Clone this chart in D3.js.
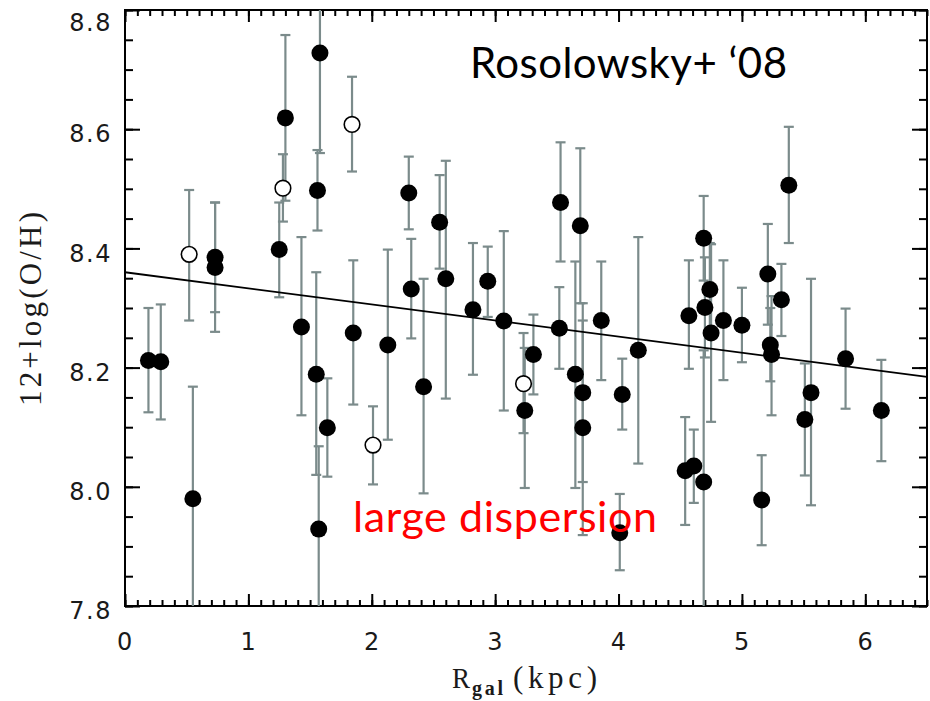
<!DOCTYPE html>
<html>
<head>
<meta charset="utf-8">
<script src="https://cdn.jsdelivr.net/npm/d3@7"></script>
<style>
  body { margin: 0; background: #fff; }
  svg { display: block; }
</style>
</head>
<body>
<div id="chart"></div>
<script>
// filled points: R_gal (kpc), 12+log(O/H), lower and upper end of the error bar
var rgal = [0.19, 0.29, 0.55, 0.73, 0.73, 1.25, 1.30, 1.58, 1.56, 1.43, 1.55, 1.57, 1.64, 1.85, 2.13,
  2.30, 2.55, 2.60, 2.32, 2.42, 2.82, 2.94, 3.07, 3.24, 3.31, 3.52, 3.53, 3.69, 3.65, 3.71, 3.71,
  3.86, 4.03, 4.01, 4.16, 4.57, 4.70, 4.75, 4.85, 5.00, 5.32, 5.21, 5.38, 5.23, 5.24, 5.84, 6.13,
  5.56, 5.51, 5.16, 4.54, 4.61, 4.69, 4.69, 4.74];
var oh = [8.212, 8.210, 7.980, 8.385, 8.368, 8.398, 8.619, 8.728, 8.497, 8.268, 8.189, 7.929, 8.099, 8.258, 8.238,
  8.493, 8.444, 8.349, 8.332, 8.168, 8.297, 8.345, 8.278, 8.128, 8.222, 8.266, 8.477, 8.438, 8.189, 8.158, 8.099,
  8.279, 8.155, 7.923, 8.229, 8.287, 8.301, 8.258, 8.279, 8.271, 8.314, 8.357, 8.506, 8.238, 8.222, 8.215, 8.128,
  8.158, 8.113, 7.978, 8.027, 8.035, 8.008, 8.417, 8.331];
var ohLow = [8.125, 8.113, 7.780, 8.293, 8.260, 8.318, 8.480, 8.560, 8.430, 8.120, 8.020, 7.780, 8.017, 8.138, 8.079,
  8.432, 8.366, 8.148, 8.249, 7.989, 8.188, 8.285, 8.128, 7.998, 8.155, 8.198, 8.378, 8.308, 7.998, 8.008, 7.919,
  8.179, 8.096, 7.860, 8.039, 8.198, 8.217, 8.109, 8.179, 8.209, 8.253, 8.272, 8.409, 8.177, 8.120, 8.131, 8.043,
  7.969, 8.019, 7.902, 7.936, 7.973, 7.780, 8.346, 8.253];
var ohHigh = [8.300, 8.306, 8.168, 8.477, 8.477, 8.477, 8.758, 8.900, 8.565, 8.419, 8.360, 8.068, 8.182, 8.380, 8.398,
  8.554, 8.523, 8.547, 8.416, 8.349, 8.409, 8.403, 8.429, 8.233, 8.289, 8.335, 8.578, 8.568, 8.378, 8.308, 8.279,
  8.378, 8.215, 7.988, 8.419, 8.380, 8.385, 8.407, 8.380, 8.334, 8.374, 8.441, 8.604, 8.300, 8.320, 8.299, 8.213,
  8.349, 8.207, 8.053, 8.117, 8.096, 8.229, 8.488, 8.409];

// open points
var rgalOpen = [0.52, 1.28, 1.84, 2.01, 3.23];
var ohOpen = [8.390, 8.501, 8.608, 8.070, 8.173];
var ohOpenLow = [8.279, 8.445, 8.529, 8.004, 8.090];
var ohOpenHigh = [8.498, 8.558, 8.688, 8.135, 8.258];

// linear fit
var fitIntercept = 8.36, fitSlope = -0.027;

var xTicks = [0, 1, 2, 3, 4, 5, 6];
var yTicks = [7.8, 8.0, 8.2, 8.4, 8.6, 8.8];

var width = 930, height = 701,
    margin = { top: 10, right: 3, bottom: 95, left: 125 },
    errColor = "#7b8b8b";

var x = d3.scaleLinear().domain([0, 6.5]).range([margin.left, width - margin.right]);
var y = d3.scaleLinear().domain([7.8, 8.8]).range([height - margin.bottom, margin.top]);

var svg = d3.select("#chart").append("svg")
    .attr("width", width)
    .attr("height", height);

svg.append("defs").append("clipPath").attr("id", "plot")
    .append("rect")
    .attr("x", x(0)).attr("y", y(8.8))
    .attr("width", x(6.5) - x(0)).attr("height", y(7.8) - y(8.8));

var xMinor = d3.range(0, 66).map(function (i) { return i / 10; });
var yMinor = d3.range(0, 21).map(function (i) { return 7.8 + i * 0.05; });

function styleAxis(g) {
    g.select(".domain").remove();
    g.selectAll("line").attr("stroke", "#000").attr("stroke-width", 2);
    g.selectAll("text").attr("font-family", "DejaVu Sans, sans-serif").attr("font-size", "24px")
        .attr("letter-spacing", "1.5px").attr("fill", "#1a1a1a");
}

// minor ticks on all four sides
svg.append("g").attr("transform", "translate(0," + y(7.8) + ")")
    .call(d3.axisBottom(x).tickValues(xMinor).tickFormat("").tickSize(-6)).call(styleAxis);
svg.append("g").attr("transform", "translate(0," + y(8.8) + ")")
    .call(d3.axisTop(x).tickValues(xMinor).tickFormat("").tickSize(-6)).call(styleAxis);
svg.append("g").attr("transform", "translate(" + x(0) + ",0)")
    .call(d3.axisLeft(y).tickValues(yMinor).tickFormat("").tickSize(-8)).call(styleAxis);
svg.append("g").attr("transform", "translate(" + x(6.5) + ",0)")
    .call(d3.axisRight(y).tickValues(yMinor).tickFormat("").tickSize(-8)).call(styleAxis);

// major ticks with labels
svg.append("g").attr("transform", "translate(0," + y(7.8) + ")")
    .call(d3.axisBottom(x).tickValues(xTicks).tickFormat(d3.format("d")).tickSize(-12).tickPadding(27)).call(styleAxis);
svg.append("g").attr("transform", "translate(0," + y(8.8) + ")")
    .call(d3.axisTop(x).tickValues(xTicks).tickFormat("").tickSize(-12)).call(styleAxis);
var yAxisG = svg.append("g").attr("transform", "translate(" + x(0) + ",0)")
    .call(d3.axisLeft(y).tickValues(yTicks).tickFormat(d3.format(".1f")).tickSize(-15).tickPadding(13)).call(styleAxis);
// labels sit a little below their ticks, the top one more so
yAxisG.selectAll(".tick text")
    .attr("y", function (d) { return d === 8.8 ? 13 : 5; });
svg.append("g").attr("transform", "translate(" + x(6.5) + ",0)")
    .call(d3.axisRight(y).tickValues(yTicks).tickFormat("").tickSize(-15)).call(styleAxis);

// frame
svg.append("rect")
    .attr("x", x(0)).attr("y", y(8.8))
    .attr("width", x(6.5) - x(0)).attr("height", y(7.8) - y(8.8))
    .attr("fill", "none").attr("stroke", "#000").attr("stroke-width", 2);

var filled = rgal.map(function (d, i) { return { r: d, v: oh[i], lo: ohLow[i], hi: ohHigh[i] }; });
var open = rgalOpen.map(function (d, i) { return { r: d, v: ohOpen[i], lo: ohOpenLow[i], hi: ohOpenHigh[i] }; });
var all = filled.concat(open);

// error bars
var eb = svg.append("g").attr("clip-path", "url(#plot)")
    .attr("stroke", errColor).attr("stroke-width", 2.2).attr("fill", "none");
eb.selectAll("line.v").data(all).enter().append("line").attr("class", "v")
    .attr("x1", function (d) { return x(d.r); }).attr("x2", function (d) { return x(d.r); })
    .attr("y1", function (d) { return y(d.lo); }).attr("y2", function (d) { return y(d.hi); });
eb.selectAll("line.lo").data(all).enter().append("line").attr("class", "lo")
    .attr("x1", function (d) { return x(d.r) - 5; }).attr("x2", function (d) { return x(d.r) + 5; })
    .attr("y1", function (d) { return y(d.lo); }).attr("y2", function (d) { return y(d.lo); });
eb.selectAll("line.hi").data(all).enter().append("line").attr("class", "hi")
    .attr("x1", function (d) { return x(d.r) - 5; }).attr("x2", function (d) { return x(d.r) + 5; })
    .attr("y1", function (d) { return y(d.hi); }).attr("y2", function (d) { return y(d.hi); });

// fit line
svg.append("line")
    .attr("x1", x(0)).attr("y1", y(fitIntercept))
    .attr("x2", x(6.5)).attr("y2", y(fitIntercept + fitSlope * 6.5))
    .attr("stroke", "#000").attr("stroke-width", 1.8);

// points
svg.append("g").selectAll("circle").data(filled).enter().append("circle")
    .attr("cx", function (d) { return x(d.r); })
    .attr("cy", function (d) { return y(d.v); })
    .attr("r", 8.5)
    .attr("fill", "#000");
svg.append("g").selectAll("circle").data(open).enter().append("circle")
    .attr("cx", function (d) { return x(d.r); })
    .attr("cy", function (d) { return y(d.v); })
    .attr("r", 7.8)
    .attr("fill", "#fff")
    .attr("stroke", "#000").attr("stroke-width", 1.6);

// axis titles
var xt = svg.append("g")
    .attr("font-family", "Liberation Serif, serif").attr("fill", "#1a1a1a");
xt.append("text").attr("x", 452).attr("y", 688).attr("font-size", "30px")
    .attr("textLength", 18).attr("lengthAdjust", "spacingAndGlyphs").text("R");
xt.append("text").attr("x", 472).attr("y", 695).attr("font-size", "20px").attr("font-weight", "bold")
    .attr("textLength", 31).attr("lengthAdjust", "spacing").text("gal");
xt.append("text").attr("x", 513).attr("y", 688).attr("font-size", "31px")
    .attr("textLength", 84).attr("lengthAdjust", "spacing").text("(kpc)");

svg.append("text")
    .attr("transform", "translate(41,309) rotate(-90)")
    .attr("text-anchor", "middle")
    .attr("font-family", "Liberation Serif, serif").attr("font-size", "31px").attr("fill", "#1a1a1a")
    .attr("textLength", 194).attr("lengthAdjust", "spacing")
    .text("12+log(O/H)");

// annotations
svg.append("text")
    .attr("x", 470).attr("y", 78)
    .attr("font-family", "Lato, sans-serif").attr("font-size", "42px").attr("fill", "#000")
    .attr("textLength", 317).attr("lengthAdjust", "spacing")
    .text("Rosolowsky+ \u201808");

svg.append("text")
    .attr("x", 353).attr("y", 532)
    .attr("font-family", "Lato, sans-serif").attr("font-size", "43px").attr("fill", "#ff0000")
    .attr("textLength", 304).attr("lengthAdjust", "spacing")
    .text("large dispersion");
</script>
</body>
</html>
